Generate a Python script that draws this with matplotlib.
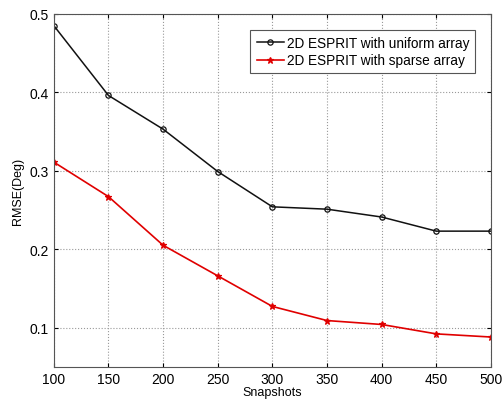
import numpy as np
import matplotlib
matplotlib.use("Agg")
import matplotlib.pyplot as plt

plt.rcParams["font.family"] = ["Liberation Sans", "DejaVu Sans"]

snapshots = [100, 150, 200, 250, 300, 350, 400, 450, 500]
rmse_uniform = [0.485, 0.396, 0.353, 0.299, 0.254, 0.251, 0.241, 0.223, 0.223]
rmse_sparse = [0.311, 0.267, 0.205, 0.166, 0.127, 0.109, 0.104, 0.092, 0.088]
xticks = [100, 150, 200, 250, 300, 350, 400, 450, 500]
yticks = [0.1, 0.2, 0.3, 0.4, 0.5]

fig = plt.figure(figsize=(5.03, 4.02), dpi=100)
ax = fig.add_axes([0.107, 0.085, 0.869, 0.878])

ax.plot(snapshots, rmse_uniform, "-o", color="#111111", lw=1.1, ms=3.8,
        mfc="none", mew=0.9, label="2D ESPRIT with uniform array")
ax.plot(snapshots, rmse_sparse, "-*", color="#e00000", lw=1.2, ms=4.5,
        mew=0.9, label="2D ESPRIT with sparse array")

ax.set_xlim(100, 500)
ax.set_ylim(0.05, 0.5)
ax.set_xticks(xticks)
ax.set_yticks(yticks)
ax.set_yticklabels(["0.1", "0.2", "0.3", "0.4", "0.5"])
ax.tick_params(direction="in", top=True, right=True, labelsize=10, length=3)
ax.grid(True, linestyle=":", color="#999999", lw=0.8)
for s in ax.spines.values():
    s.set_color("#555555")

ax.set_xlabel("Snapshots", fontsize=9, labelpad=0)
ax.set_ylabel("RMSE(Deg)", fontsize=9, labelpad=4)

leg = ax.legend(loc="upper right", bbox_to_anchor=(0.964, 0.955), fontsize=9.8,
                fancybox=False, framealpha=1, edgecolor="#555555",
                handlelength=2.0, handletextpad=0.2, borderpad=0.45,
                labelspacing=0.25, borderaxespad=0)
leg.get_frame().set_linewidth(0.8)

fig.savefig("out.png", dpi=100)
